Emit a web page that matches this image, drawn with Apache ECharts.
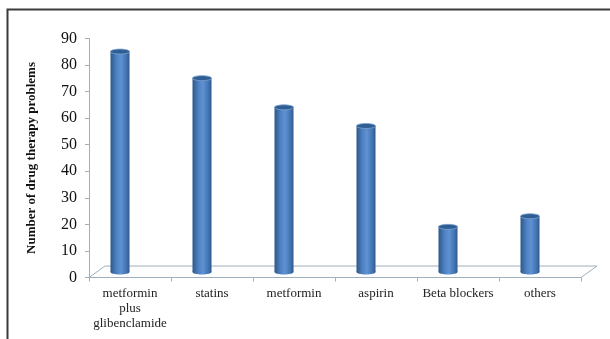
<!DOCTYPE html>
<html>
<head>
<meta charset="utf-8">
<script src="https://cdn.jsdelivr.net/npm/echarts@6/dist/echarts.min.js"></script>
<style>
  html, body { margin: 0; padding: 0; background: #fff; }
  #chart { width: 610px; height: 339px; }
</style>
</head>
<body>
<div id="chart"></div>
<script>
// ── Data ────────────────────────────────────────────────────────────────
const categories = ['metformin\nplus\nglibenclamide', 'statins', 'metformin', 'aspirin', 'Beta blockers', 'others'];
const problemCounts = [83, 73, 62, 55, 17, 21];
const axisTitle = 'Number of drug therapy problems';

// ── Style ───────────────────────────────────────────────────────────────
const fontFamily = '"Liberation Serif", "Times New Roman", serif';
const axisGray   = '#9eb0bd';
const depthX = 16, depthY = 11.5;   // floor depth (3D look)
const barShiftX = -10, barShiftY = -5.5;
const barW = 19, capH = 5;

const bodyFill = new echarts.graphic.LinearGradient(0, 0, 1, 0, [
  { offset: 0,    color: '#2c5789' },
  { offset: 0.3,  color: '#4d80c0' },
  { offset: 0.55, color: '#5e92d3' },
  { offset: 0.85, color: '#4272ae' },
  { offset: 1,    color: '#2d588a' }
]);

const chart = echarts.init(document.getElementById('chart'), null, { renderer: 'canvas' });

chart.setOption({
  animation: false,
  grid: { left: 89, right: 29, top: 38.5, bottom: 61.5 },
  graphic: [{
    type: 'polyline',
    shape: { points: [[7.5, 339], [7.5, 9.5], [610, 9.5]] },
    style: { stroke: '#3a3a3a', lineWidth: 2, fill: null },
    z: 10
  }],
  xAxis: {
    type: 'category',
    data: categories,
    axisLine: { lineStyle: { color: axisGray, width: 1 } },
    axisTick: { show: true, length: 4, lineStyle: { color: axisGray } },
    axisLabel: { color: '#222', fontFamily, fontSize: 13, lineHeight: 15, margin: 9, interval: 0 },
    splitLine: { show: false }
  },
  yAxis: {
    type: 'value',
    min: 0, max: 90, interval: 10,
    name: axisTitle,
    nameLocation: 'middle',
    nameGap: 51,
    nameTextStyle: { color: '#111', fontFamily, fontSize: 13, fontWeight: 'bold' },
    axisLine: { show: true, lineStyle: { color: axisGray, width: 1 } },
    axisTick: { show: true, length: 4, lineStyle: { color: axisGray } },
    axisLabel: { color: '#111', fontFamily, fontSize: 16, margin: 12 },
    splitLine: { show: false }
  },
  series: [
    {
      // floor of the 3D plot area
      type: 'custom',
      data: [[0, 0]],
      silent: true,
      z: 1,
      renderItem: (params, api) => {
        const cs = params.coordSys;
        const x0 = cs.x, x1 = cs.x + cs.width, y0 = cs.y + cs.height;
        return {
          type: 'polygon',
          shape: { points: [[x0, y0], [x0 + depthX, y0 - depthY], [x1 + depthX, y0 - depthY], [x1, y0]] },
          style: { fill: '#fdfdfd', stroke: axisGray, lineWidth: 1 }
        };
      }
    },
    {
      type: 'custom',
      data: problemCounts.map((v, i) => [i, v]),
      encode: { x: 0, y: 1 },
      z: 3,
      renderItem: (params, api) => {
        const base = api.coord([api.value(0), 0]);
        const top = api.coord([api.value(0), api.value(1)]);
        const cx = base[0] + barShiftX;
        const yb = base[1] + barShiftY;
        const yt = top[1] + barShiftY;
        return {
          type: 'group',
          children: [
            { type: 'ellipse', shape: { cx, cy: yb, rx: barW / 2, ry: capH / 2 }, style: { fill: bodyFill } },
            { type: 'rect', shape: { x: cx - barW / 2, y: yt, width: barW, height: yb - yt }, style: { fill: bodyFill } },
            { type: 'ellipse', shape: { cx, cy: yt, rx: barW / 2, ry: capH / 2 },
              style: { fill: '#2f5e95', stroke: '#7fa3cf', lineWidth: 0.8 } }
          ]
        };
      }
    }
  ]
});
</script>
</body>
</html>
